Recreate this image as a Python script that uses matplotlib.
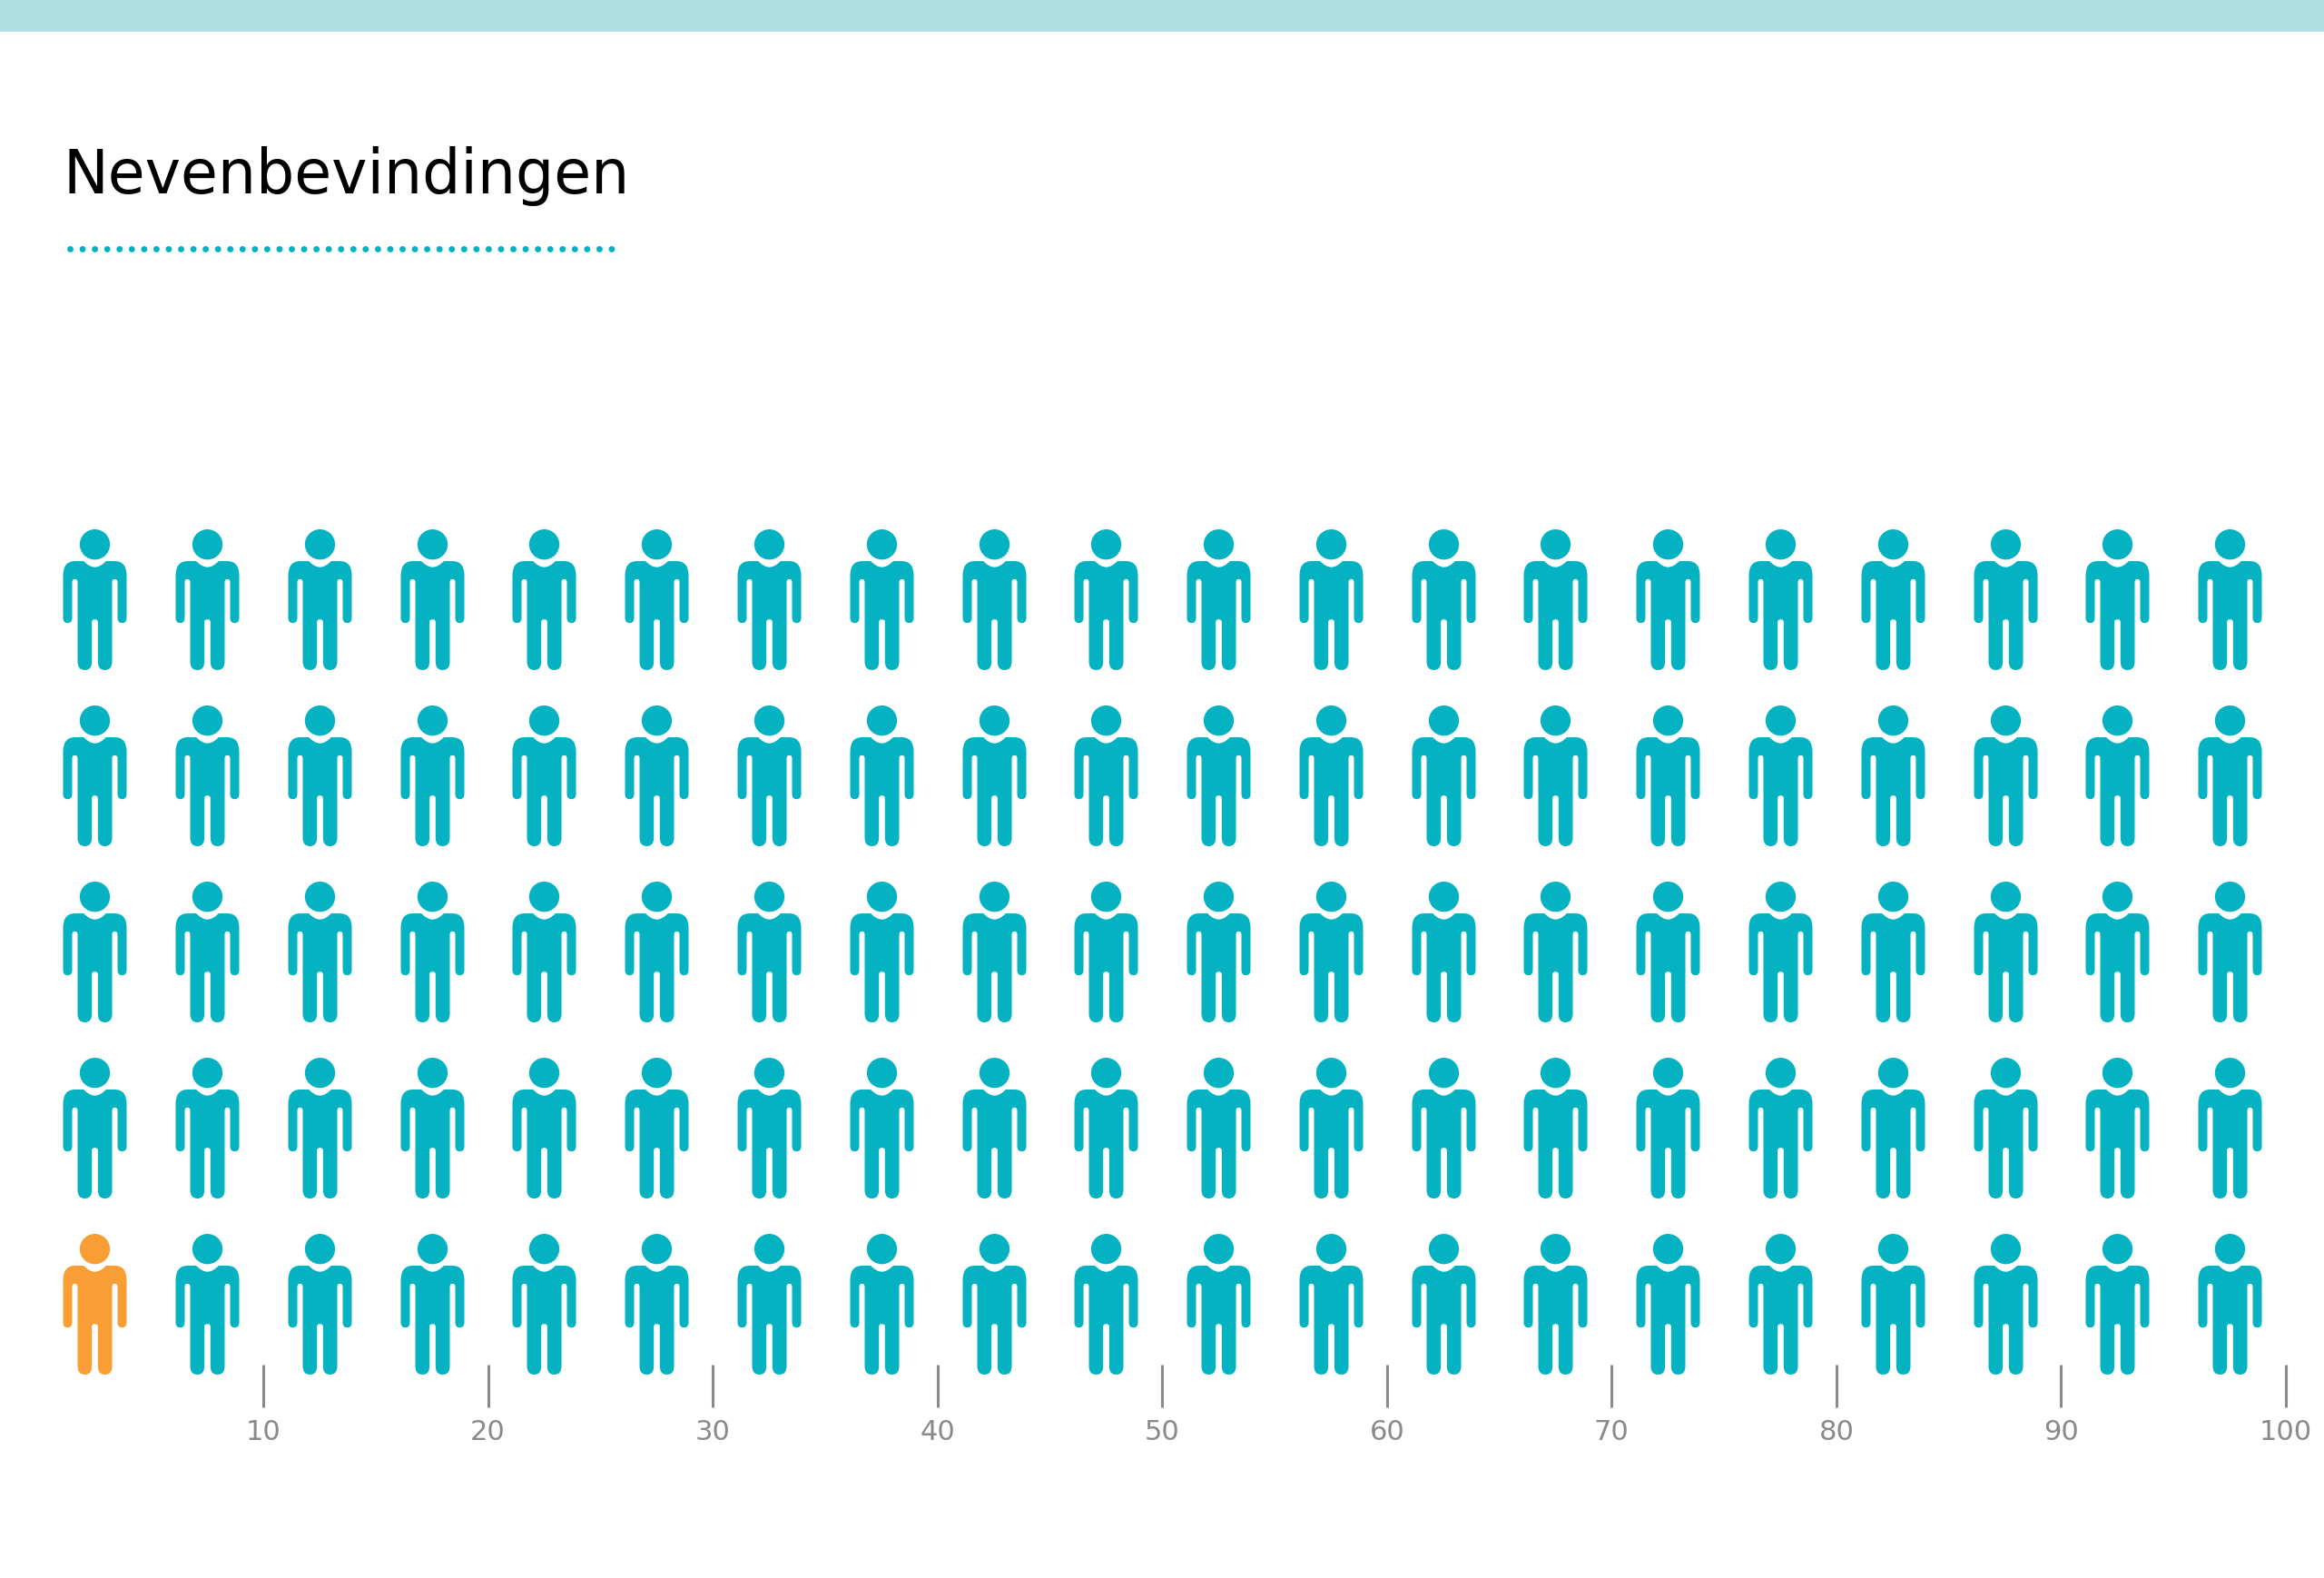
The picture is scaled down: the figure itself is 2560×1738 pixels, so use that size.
import matplotlib
matplotlib.use("Agg")
from matplotlib import pyplot as plt
from matplotlib.lines import Line2D
from matplotlib.patches import Rectangle
from matplotlib.path import Path

# Data
title = "Nevenbevindingen"
n_people = 100
n_highlighted = 1
people_per_column = 5
tick_values = [10, 20, 30, 40, 50, 60, 70, 80, 90, 100]
tick_labels = ["10", "20", "30", "40", "50", "60", "70", "80", "90", "100"]

teal = "#05B2C2"
orange = "#F99D35"
band = "#AEDFE2"
grey = "#8A8A8C"

W, H = 2560, 1738
DPI = 100


# Person icon. x is from the middle, y is up from the middle
def person_marker():
    right = [
        (Path.CURVE3, (18, 107.5)), (Path.CURVE3, (37, 127.5)),
        (Path.LINETO, (65, 127.5)),
        (Path.CURVE3, (105, 127.5)), (Path.CURVE3, (105, 80)),
        (Path.LINETO, (105, -60)),
        (Path.CURVE3, (105, -77)), (Path.CURVE3, (90, -77)),
        (Path.CURVE3, (75, -77)), (Path.CURVE3, (75, -60)),
        (Path.LINETO, (75, 58)),
        (Path.CURVE3, (75, 68)), (Path.CURVE3, (66, 68)),
        (Path.CURVE3, (57, 68)), (Path.CURVE3, (57, 58)),
        (Path.LINETO, (57, -205)),
        (Path.CURVE3, (57, -232.5)), (Path.CURVE3, (33, -232.5)),
        (Path.CURVE3, (10, -232.5)), (Path.CURVE3, (10, -205)),
        (Path.LINETO, (10, -74)),
        (Path.CURVE3, (10, -65)), (Path.CURVE3, (0, -65)),
    ]
    codes = [Path.MOVETO] + [c for c, v in right]
    verts = [(0, 107.5)] + [v for c, v in right]
    # left half runs back along the same points, mirrored
    back_verts = [(-x, y) for x, y in verts[::-1]][1:]
    back_codes = []
    rev = codes[::-1]
    for c in rev[:-1]:
        back_codes.append(c if c != Path.MOVETO else Path.LINETO)
    codes = codes + back_codes
    verts = verts + back_verts
    body = Path(verts + [(0, 107.5)], codes + [Path.CLOSEPOLY])
    head = Path.circle((0, 182.5), 50)
    return Path.make_compound_path(head, body)


plt.rcParams["font.family"] = ["DejaVu Sans"]
plt.rcParams["lines.scale_dashes"] = False

fig = plt.figure(figsize=(W / DPI, H / DPI), dpi=DPI, facecolor="white")

# Axes: left edge is the 0 of the count, bottom edge is where the ticks start
left, right_edge, top, bottom = 42.5, 2518, 541.5, 1502.5
ax = fig.add_axes([left / W, 1 - bottom / H, (right_edge - left) / W, (bottom - top) / H])
ax.set_xlim(0, 100)
ax.set_ylim(0.657, 5.611)
ax.patch.set_alpha(0)
for s in ax.spines.values():
    s.set_visible(False)

marker = person_marker()
size = 155 * 72 / DPI
for n in range(1, n_people + 1):
    col = (n - 1) // people_per_column
    row = (n - 1) % people_per_column + 1
    color = orange if n <= n_highlighted else teal
    ax.plot([col * people_per_column + 2.5], [row], marker=marker, ms=size, mfc=color,
            mew=0, ls="none", clip_on=False)

ax.set_xticks(tick_values)
ax.set_xticklabels(tick_labels)
ax.set_yticks([])
ax.tick_params(axis="x", length=47 * 72 / DPI, width=2.2, color=grey, labelcolor=grey,
               labelsize=22, pad=10)

# Header
fig.add_artist(Rectangle((0, 1 - 35 / H), 1, 35 / H, transform=fig.transFigure, fc=band, ec="none"))
fig.text(69 / W, 1 - 213 / H, title, fontsize=48, color="black", ha="left", va="baseline")
fig.add_artist(Line2D([77 / W, 678 / W], [1 - 273.5 / H] * 2, transform=fig.transFigure, color=teal,
                      lw=5, linestyle=(0, (0.01, 9.75)), dash_capstyle="round"))

fig.savefig("out.png", dpi=DPI)
